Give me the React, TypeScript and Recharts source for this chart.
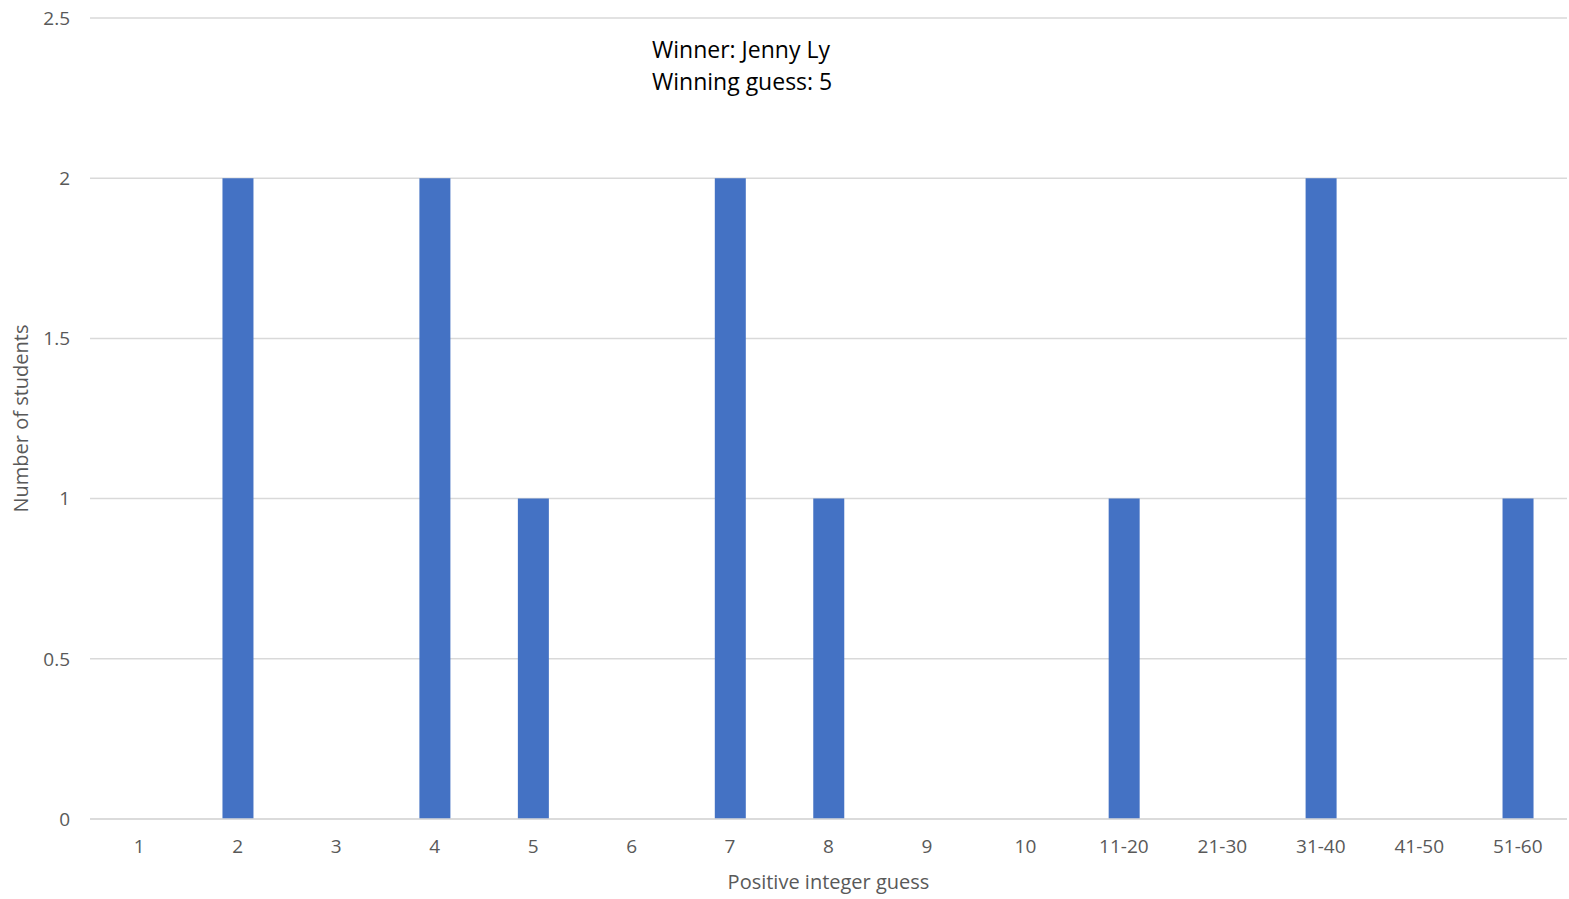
import { BarChart, Bar, XAxis, YAxis, CartesianGrid, Label } from 'recharts';

const guesses = ['1', '2', '3', '4', '5', '6', '7', '8', '9', '10', '11-20', '21-30', '31-40', '41-50', '51-60'];
const students = [0, 2, 0, 2, 1, 0, 2, 1, 0, 0, 1, 0, 2, 0, 1];
const yTicks = [0, 0.5, 1, 1.5, 2, 2.5];
const notes = ['Winner: Jenny Ly', 'Winning guess: 5'];

const data = guesses.map((g, i) => ({ guess: g, count: students[i] }));

const font = '"Open Sans", "Liberation Sans", sans-serif';
const grey = '#595959';

export default function App() {
  return (
    <div style={{ position: 'absolute', top: 0, left: 0, width: 1569, height: 899, background: '#fff', fontFamily: font }}>
      <BarChart width={1569} height={899} data={data} margin={{ top: 18, right: 2, bottom: 0, left: 0 }}>
        <CartesianGrid vertical={false} stroke="#d9d9d9" strokeWidth={1.5} />
        <XAxis
          dataKey="guess"
          height={80}
          tickSize={0}
          tickMargin={21}
          axisLine={{ stroke: '#d9d9d9', strokeWidth: 1.5 }}
          tick={{ fontSize: 19, fill: grey, fontFamily: font }}
          interval={0}
        >
          <Label value="Positive integer guess" position="insideBottom" offset={10} style={{ fontSize: 20, fill: grey, fontFamily: font }} />
        </XAxis>
        <YAxis
          width={90}
          domain={[0, 2.5]}
          ticks={yTicks}
          tickSize={0}
          tickMargin={20}
          axisLine={false}
          tick={{ fontSize: 19, fill: grey, fontFamily: font }}
        >
          <Label value="Number of students" angle={-90} position="insideLeft" offset={21} style={{ fontSize: 20, fill: grey, fontFamily: font, textAnchor: 'middle' }} />
        </YAxis>
        <Bar dataKey="count" fill="#4472C4" barSize={31} isAnimationActive={false} />
      </BarChart>
      <div style={{ position: 'absolute', left: 652, top: 33, fontSize: 23, lineHeight: '32px', color: '#000' }}>
        {notes.map((n) => (
          <div key={n}>{n}</div>
        ))}
      </div>
    </div>
  );
}
